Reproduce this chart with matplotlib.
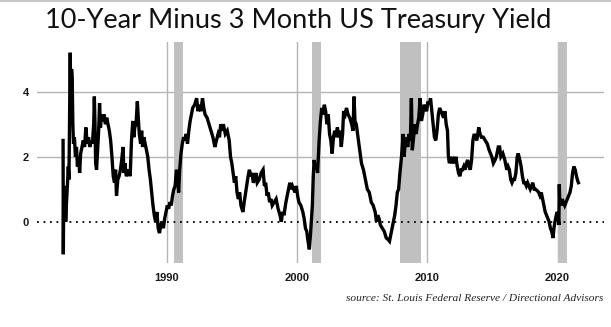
import matplotlib
matplotlib.use("Agg")
import matplotlib.pyplot as plt
from matplotlib.lines import Line2D

# 10y minus 3m spread (percentage points), read at irregular dates
years = [
    1982.05, 1982.07, 1982.10, 1982.15, 1982.20, 1982.25, 1982.30, 1982.38, 1982.45, 1982.50,
    1982.55, 1982.60, 1982.65, 1982.70, 1982.75, 1982.80, 1982.85, 1982.92, 1983.00, 1983.08,
    1983.15, 1983.25, 1983.32, 1983.40, 1983.50, 1983.60, 1983.70, 1983.80, 1983.90, 1984.00,
    1984.10, 1984.20, 1984.30, 1984.40, 1984.45, 1984.50, 1984.55, 1984.62, 1984.70, 1984.78,
    1984.85, 1984.92, 1985.00, 1985.10, 1985.20, 1985.30, 1985.40, 1985.50, 1985.60, 1985.70,
    1985.80, 1985.90, 1986.00, 1986.08, 1986.15, 1986.25, 1986.35, 1986.45, 1986.55, 1986.65,
    1986.72, 1986.80, 1986.90, 1987.00, 1987.10, 1987.20, 1987.30, 1987.40, 1987.48, 1987.55,
    1987.65, 1987.75, 1987.82, 1987.90, 1988.00, 1988.08, 1988.15, 1988.25, 1988.35, 1988.45,
    1988.55, 1988.65, 1988.75, 1988.85, 1988.95, 1989.05, 1989.15, 1989.25, 1989.35, 1989.45,
    1989.55, 1989.65, 1989.75, 1989.85, 1989.95, 1990.05, 1990.15, 1990.25, 1990.35, 1990.45,
    1990.55, 1990.65, 1990.75, 1990.85, 1990.92, 1991.00, 1991.10, 1991.20, 1991.30, 1991.40,
    1991.50, 1991.60, 1991.70, 1991.80, 1991.90, 1992.00, 1992.15, 1992.30, 1992.40, 1992.50,
    1992.62, 1992.75, 1992.85, 1992.95, 1993.10, 1993.25, 1993.40, 1993.55, 1993.70, 1993.82,
    1993.95, 1994.05, 1994.15, 1994.25, 1994.35, 1994.50, 1994.65, 1994.80, 1994.90, 1995.00,
    1995.10, 1995.20, 1995.30, 1995.40, 1995.50, 1995.60, 1995.70, 1995.85, 1995.95, 1996.10,
    1996.25, 1996.35, 1996.45, 1996.55, 1996.65, 1996.75, 1996.85, 1996.95, 1997.10, 1997.25,
    1997.40, 1997.50, 1997.60, 1997.70, 1997.80, 1997.90, 1998.00, 1998.10, 1998.25, 1998.40,
    1998.55, 1998.70, 1998.80, 1998.90, 1999.00, 1999.15, 1999.30, 1999.45, 1999.55, 1999.65,
    1999.75, 1999.85, 1999.95, 2000.05, 2000.15, 2000.30, 2000.45, 2000.55, 2000.65, 2000.75,
    2000.85, 2000.95, 2001.02, 2001.10, 2001.18, 2001.25, 2001.32, 2001.40, 2001.50, 2001.58,
    2001.70, 2001.80, 2001.90, 2002.00, 2002.10, 2002.20, 2002.30, 2002.40, 2002.50, 2002.60,
    2002.70, 2002.80, 2002.90, 2003.00, 2003.10, 2003.20, 2003.30, 2003.40, 2003.50, 2003.58,
    2003.70, 2003.80, 2003.92, 2004.05, 2004.20, 2004.30, 2004.38, 2004.45, 2004.55, 2004.65,
    2004.75, 2004.85, 2004.95, 2005.10, 2005.25, 2005.40, 2005.55, 2005.70, 2005.85, 2006.00,
    2006.10, 2006.20, 2006.30, 2006.40, 2006.55, 2006.70, 2006.85, 2007.00, 2007.10, 2007.20,
    2007.30, 2007.40, 2007.50, 2007.60, 2007.70, 2007.80, 2007.90, 2008.00, 2008.08, 2008.15,
    2008.22, 2008.30, 2008.40, 2008.50, 2008.60, 2008.70, 2008.78, 2008.85, 2008.95, 2009.05,
    2009.15, 2009.25, 2009.35, 2009.45, 2009.55, 2009.65, 2009.75, 2009.85, 2009.95, 2010.05,
    2010.15, 2010.25, 2010.35, 2010.45, 2010.55, 2010.65, 2010.75, 2010.85, 2010.95, 2011.05,
    2011.15, 2011.25, 2011.35, 2011.45, 2011.55, 2011.62, 2011.70, 2011.80, 2011.90, 2012.00,
    2012.10, 2012.20, 2012.30, 2012.40, 2012.50, 2012.60, 2012.70, 2012.80, 2012.90, 2013.00,
    2013.10, 2013.20, 2013.30, 2013.40, 2013.50, 2013.60, 2013.70, 2013.80, 2013.95, 2014.05,
    2014.15, 2014.30, 2014.45, 2014.60, 2014.75, 2014.85, 2014.95, 2015.07, 2015.20, 2015.30,
    2015.45, 2015.55, 2015.65, 2015.80, 2015.95, 2016.10, 2016.20, 2016.30, 2016.40, 2016.50,
    2016.60, 2016.70, 2016.80, 2016.90, 2016.98, 2017.10, 2017.20, 2017.30, 2017.40, 2017.50,
    2017.60, 2017.70, 2017.80, 2017.90, 2018.00, 2018.10, 2018.20, 2018.30, 2018.45, 2018.55,
    2018.65, 2018.75, 2018.85, 2018.95, 2019.05, 2019.15, 2019.25, 2019.35, 2019.45, 2019.55,
    2019.65, 2019.72, 2019.80, 2019.90, 2019.98, 2020.05, 2020.10, 2020.13, 2020.17, 2020.25,
    2020.35, 2020.45, 2020.55, 2020.65, 2020.75, 2020.85, 2020.95, 2021.05, 2021.15, 2021.25,
    2021.35, 2021.45, 2021.55, 2021.60,
]
spread = [
    2.5, -1.0, 1.0, 0.7, 1.1, 0.0, 0.5, 1.1, 1.7, 1.3,
    3.1, 5.2, 3.2, 4.7, 4.4, 3.0, 2.4, 2.6, 2.0, 2.3,
    1.7, 2.0, 1.5, 2.1, 2.3, 2.5, 2.3, 2.9, 2.4, 2.6,
    2.3, 2.5, 2.4, 3.0, 3.85, 3.0, 1.8, 1.6, 2.2, 2.8,
    3.65, 2.9, 3.3, 3.1, 3.3, 3.0, 3.2, 3.0, 2.8, 2.5,
    2.0, 1.4, 1.2, 1.6, 0.8, 1.3, 1.4, 1.6, 1.9, 2.3,
    1.5, 1.8, 1.4, 1.5, 1.6, 1.4, 2.5, 3.1, 2.6, 2.9,
    3.0, 3.7, 3.2, 2.7, 2.4, 2.8, 2.3, 2.6, 2.4, 2.2,
    2.0, 1.6, 1.3, 0.9, 0.5, 0.2, 0.0, 0.3, -0.2, -0.35,
    -0.1, 0.0, -0.2, 0.1, 0.3, 0.5, 0.4, 0.6, 0.5, 0.8,
    1.0, 1.1, 1.6, 1.3, 0.9, 1.6, 2.1, 2.4, 2.6, 2.5,
    2.7, 2.4, 2.8, 3.1, 3.3, 3.5, 3.6, 3.8, 3.4, 3.6,
    3.4, 3.8, 3.5, 3.3, 3.2, 3.0, 2.8, 2.6, 2.3, 2.5,
    2.7, 2.6, 3.0, 2.8, 3.0, 2.7, 2.8, 2.5, 2.0, 1.8,
    1.5, 1.2, 1.4, 0.9, 0.7, 0.9, 0.5, 0.3, 0.6, 1.0,
    1.4, 1.6, 1.4, 1.5, 1.2, 1.3, 1.5, 1.2, 1.3, 1.5,
    1.6, 1.1, 1.2, 0.8, 0.9, 0.6, 0.7, 0.5, 0.6, 0.7,
    0.4, 0.2, 0.0, 0.3, 0.2, 0.6, 0.9, 1.2, 1.0, 1.1,
    1.0, 0.9, 1.1, 0.8, 0.6, 0.5, 0.3, 0.1, -0.2, -0.3,
    -0.6, -0.85, -0.5, 0.0, 0.5, 1.4, 1.9, 1.6, 1.8, 1.5,
    2.5, 3.1, 3.5, 3.3, 3.6, 3.4, 3.0, 3.3, 2.7, 2.5,
    2.1, 2.6, 2.8, 2.6, 2.9, 2.6, 2.8, 2.3, 2.7, 3.4,
    3.3, 3.5, 3.3, 3.2, 3.0, 2.8, 3.85, 3.1, 3.0, 2.7,
    2.4, 2.1, 1.8, 1.6, 1.3, 1.0, 0.9, 0.6, 0.5, 0.3,
    0.0, 0.2, 0.1, -0.1, -0.2, -0.3, -0.5, -0.55, -0.6, -0.4,
    -0.2, 0.0, 0.2, 0.5, 0.9, 1.0, 1.5, 1.9, 2.3, 2.7,
    2.0, 2.4, 2.6, 2.3, 2.7, 2.5, 3.8, 2.2, 2.6, 3.0,
    2.7, 3.0, 3.2, 3.8, 3.1, 3.3, 3.6, 3.5, 3.4, 3.7,
    3.6, 3.8, 3.4, 3.0, 2.6, 2.5, 2.8, 3.3, 3.5, 3.4,
    3.3, 3.2, 3.4, 3.0, 2.8, 2.0, 1.8, 2.0, 1.8, 1.9,
    1.8, 2.0, 1.7, 1.5, 1.4, 1.6, 1.6, 1.7, 1.6, 1.8,
    1.9, 1.7, 1.6, 1.9, 2.5, 2.7, 2.6, 2.5, 2.9, 2.7,
    2.6, 2.6, 2.5, 2.4, 2.2, 2.1, 2.0, 1.8, 1.9, 2.0,
    2.3, 2.3, 2.0, 2.1, 1.9, 1.6, 1.7, 1.6, 1.3, 1.2,
    1.3, 1.3, 1.5, 2.0, 2.1, 1.9, 1.7, 1.4, 1.2, 1.2,
    1.1, 1.2, 1.1, 1.0, 1.1, 1.2, 1.0, 1.0, 0.95, 0.9,
    0.8, 0.9, 0.7, 0.5, 0.3, 0.2, 0.1, 0.0, -0.2, -0.3,
    -0.5, -0.2, 0.0, 0.2, 0.3, 0.1, -0.1, 1.15, 0.6, 0.7,
    0.5, 0.6, 0.5, 0.6, 0.7, 0.8, 0.9, 1.1, 1.5, 1.7,
    1.6, 1.4, 1.25, 1.2,
]

# NBER recessions (start, end) in decimal years
recession_start = [1990.55, 2001.17, 2007.92, 2020.0]
recession_end = [1991.25, 2001.85, 2009.5, 2020.7]

decades = [1990, 2000, 2010, 2020]
y_ticks = [0, 2, 4]

fig = plt.figure(figsize=(6.11, 3.27), dpi=100)
ax = fig.add_axes([0.061, 0.1957, 0.9275, 0.6759])

for s, e in zip(recession_start, recession_end):
    ax.axvspan(s, e, color="#c0c0c0", lw=0, zorder=1)
for d in decades:
    ax.axvline(d, color="#b4b4b4", lw=1.0, zorder=0)
for t in [2, 4]:
    ax.axhline(t, color="#b4b4b4", lw=1.0, zorder=0)
ax.axhline(0, color="black", lw=1.3, linestyle=(0, (1, 2.6)), zorder=2)

ax.plot(years, spread, color="black", lw=2.4, solid_joinstyle="miter", zorder=3)

ax.set_xlim(1980.07, 2023.56)
ax.set_ylim(-1.27, 5.53)
ax.set_xticks(decades)
ax.set_yticks(y_ticks)
ax.tick_params(length=0, labelsize=8, labelcolor="#1a1a1a")
ax.tick_params(axis="y", pad=6)
ax.tick_params(axis="x", pad=7)
for lbl in ax.get_xticklabels() + ax.get_yticklabels():
    lbl.set_fontweight("bold")
    lbl.set_fontfamily("Liberation Sans")
for sp in ax.spines.values():
    sp.set_visible(False)

fig.text(0.488, 0.938, "10-Year Minus 3 Month US Treasury Yield", ha="center", va="center",
         fontsize=19.5, family="Lato", color="#111111")
fig.text(0.988, 0.088, "source: St. Louis Federal Reserve / Directional Advisors", ha="right",
         va="center", fontsize=8.2, family="Liberation Serif", style="italic", color="#222222")

# thin rule across the very top
fig.add_artist(Line2D([0, 1], [0.997, 0.997], color="#c8c8c8", lw=1.5, transform=fig.transFigure))

fig.savefig("out.png", dpi=100)
